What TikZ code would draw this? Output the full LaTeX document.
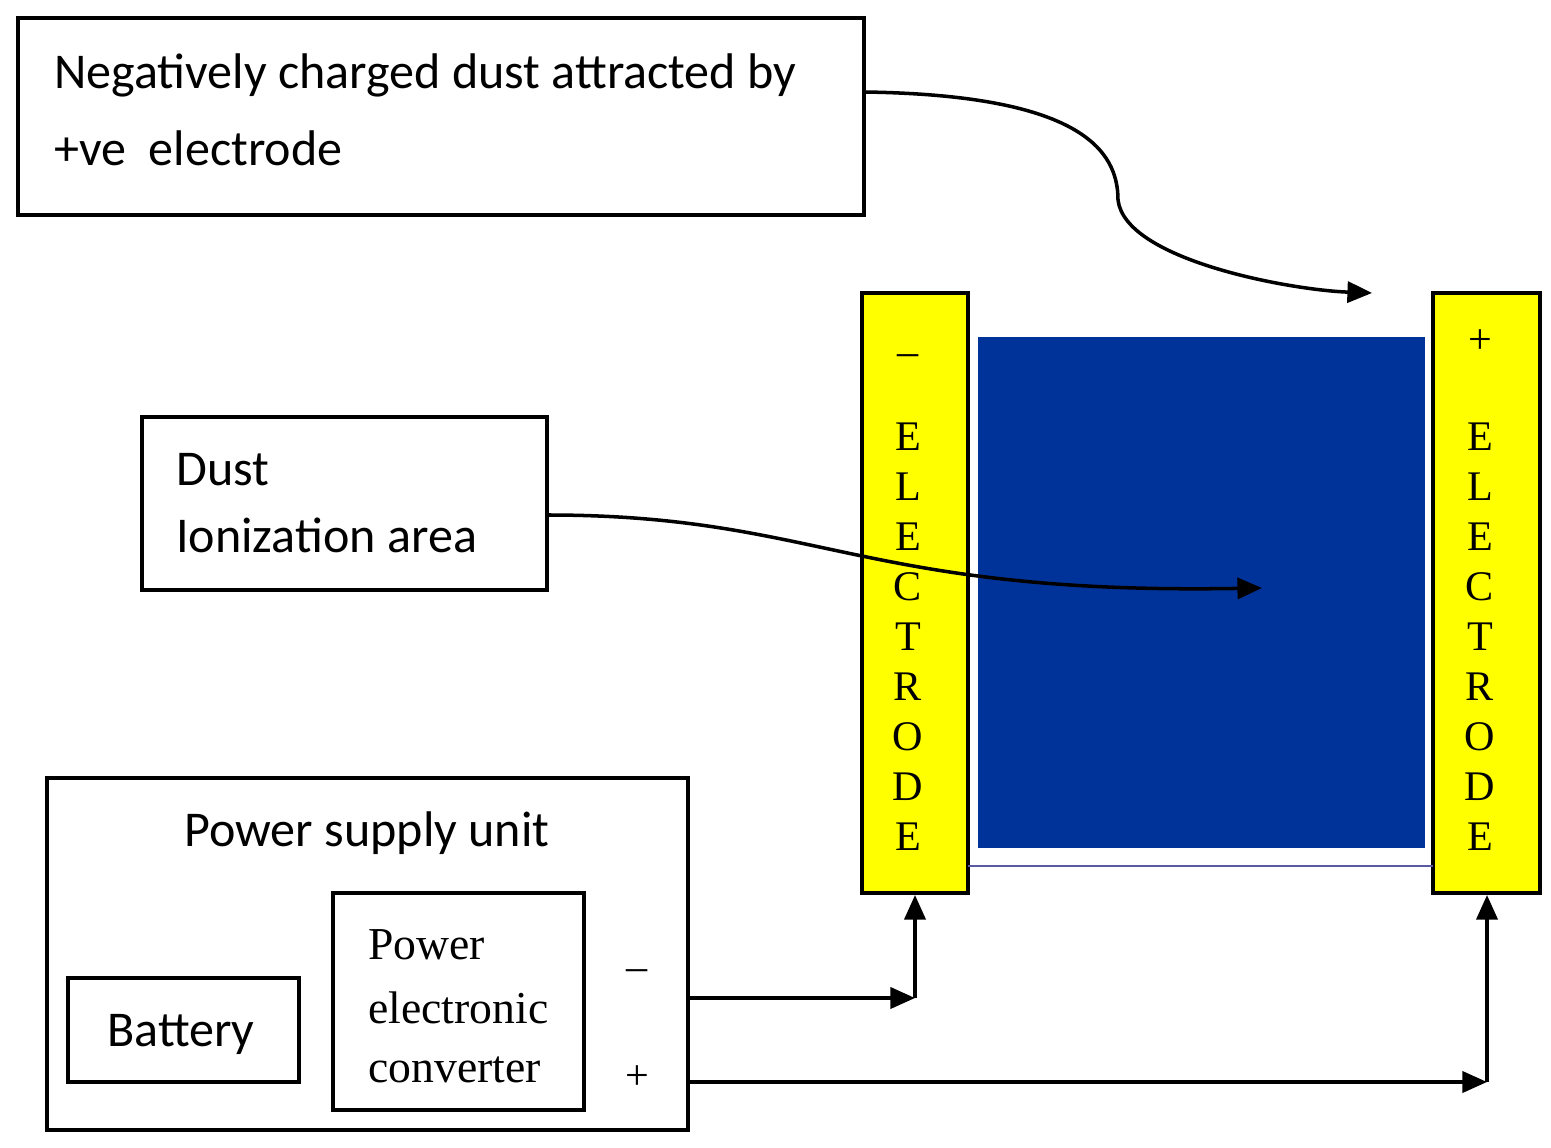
\documentclass[tikz,border=0pt]{standalone}
\usepackage{fontspec}
\setmainfont{Liberation Serif}
\newfontfamily\sansf{Carlito}
\usetikzlibrary{arrows.meta}
\definecolor{eblue}{RGB}{0,51,153}
\definecolor{eyel}{RGB}{255,255,0}
\begin{document}
\begin{tikzpicture}[x=0.02cm,y=-0.02cm,
  box/.style={draw,line width=2.2pt},
  arr/.style={line width=2pt,-{Triangle[length=14pt,width=12pt]}},
  el/.style={draw,line width=2pt,fill=eyel},
  st/.style={font=\sansf\fontsize{28.5}{34}\selectfont,anchor=west},
  sr/.style={font=\fontsize{26}{30}\selectfont,anchor=west},
  lt/.style={font=\fontsize{24}{28}\selectfont}]
\useasboundingbox (0,0) rectangle (1551,1148);
% top box
\draw[box] (18,18) rectangle (864,215);
\node[st] (t1) at (48,75) {Negatively charged dust attracted by};
\node[st] (t2) at (48,148) {+ve\ \ electrode};
\coordinate (a1s) at (864,92);
\coordinate (a1m) at (1118,200);
\coordinate (a1e) at (1372,293);
\draw[arr] (a1s) .. controls (1080,95) and (1118,150) .. (a1m) .. controls (1125,260) and (1290,290) .. (a1e);
% electrodes
\draw[el] (862,293) rectangle (968,893);
\draw[el] (1433,293) rectangle (1540,893);
\fill[eblue] (978,337) rectangle (1425,848);
\draw[color=gray!70!blue,line width=1.5pt] (968,866) -- (1433,866);
\node[lt] (m) at (908,360) {--};
\node[lt] (p) at (1480,342) {+};
\foreach \l [count=\i from 0] in {E,L,E,C,T,R,O,D,E}{
  \node[lt] at (908,437+\i*50) {\l};
  \node[lt] at (1480,437+\i*50) {\l};
}
% dust box
\draw[box] (142,417) rectangle (547,590);
\node[st] (d1) at (170,470) {Dust};
\node[st] (d2) at (170,535) {Ionization area};
\coordinate (a2s) at (547,515);
\coordinate (a2e) at (1262,588);
\draw[arr] (a2s) .. controls (820,515) and (860,595) .. (a2e);
% power supply
\draw[box] (47,778) rectangle (688,1130);
\node[font=\sansf\fontsize{28.5}{34}\selectfont] (psu) at (367,833) {Power supply unit};
\draw[box] (68,978) rectangle (299,1082);
\node[font=\sansf\fontsize{28.5}{34}\selectfont] (bat) at (181,1034) {Battery};
\draw[box] (333,893) rectangle (584,1110);
\node[sr] (c1) at (362,945) {Power};
\node[sr] (c2) at (362,1008) {electronic};
\node[sr] (c3) at (362,1070) {converter};
\node[lt] (mn) at (637,975) {--};
\node[lt] (pl) at (637,1078) {+};
\coordinate (w1) at (915,998);
\coordinate (w2) at (1487,1082);
\draw[arr] (688,998) -- (w1);
\draw[arr] (w1) -- (915,895);
\draw[arr] (688,1082) -- (w2);
\draw[arr] (w2) -- (1487,895);
\end{tikzpicture}
\end{document}
